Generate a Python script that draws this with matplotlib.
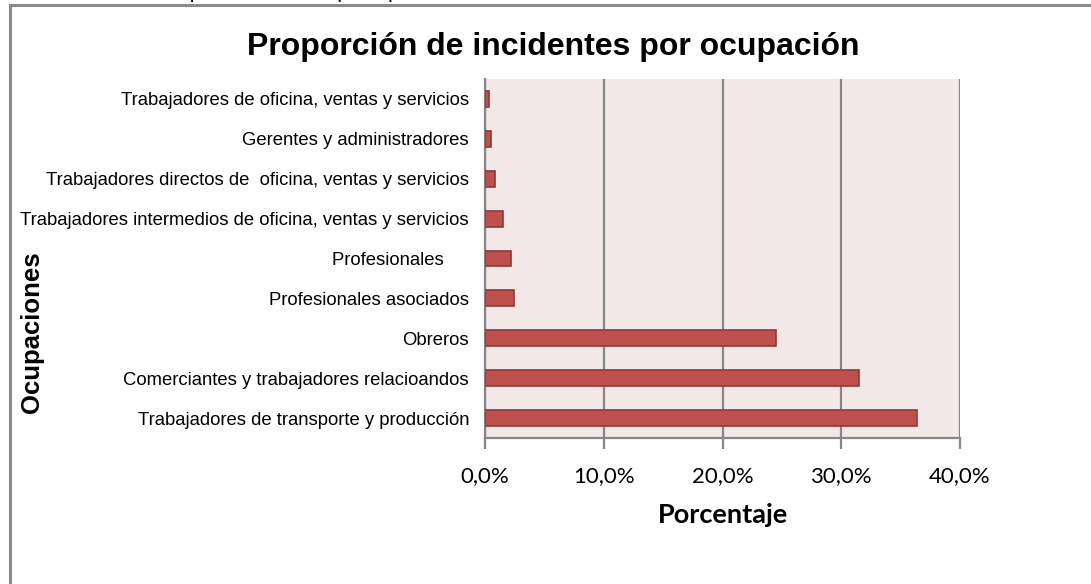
import matplotlib
matplotlib.use("Agg")
import matplotlib.pyplot as plt
from matplotlib.lines import Line2D
from matplotlib.ticker import FuncFormatter

# categories, bottom to top
ocupaciones = [
    "Trabajadores de transporte y producción",
    "Comerciantes y trabajadores relacioandos",
    "Obreros",
    "Profesionales asociados",
    "Profesionales     ",
    "Trabajadores intermedios de oficina, ventas y servicios",
    "Trabajadores directos de  oficina, ventas y servicios",
    "Gerentes y administradores",
    "Trabajadores de oficina, ventas y servicios",
]
porcentaje = [36.4, 31.5, 24.5, 2.4, 2.2, 1.5, 0.8, 0.5, 0.3]
x_ticks = [0, 10, 20, 30, 40]

W, H = 1091, 584
fig = plt.figure(figsize=(W / 100, H / 100), dpi=100)
fig.patch.set_facecolor("white")

# clipped heading from the page behind the chart, only descenders visible
fig.text(300 / W, 1 + 0.5 / H, "Proporción de incidentes por ocupación", ha="center",
         va="baseline", fontsize=10, fontweight="bold", family="Liberation Sans")

# outer chart frame (left and top edges visible)
fig.add_artist(Line2D([9.5 / W, 9.5 / W], [0, 1 - 4.5 / H], transform=fig.transFigure,
                      color="#8a8a8a", lw=2.2))
fig.add_artist(Line2D([9.5 / W, 1], [1 - 4.5 / H, 1 - 4.5 / H], transform=fig.transFigure,
                      color="#8a8a8a", lw=2.2))

ax = fig.add_axes([485 / W, 1 - 438 / H, 475 / W, 359 / H])
ax.set_facecolor("#f2e8e8")

ypos = range(len(ocupaciones))
ax.barh(ypos, porcentaje, height=0.4, color="#c0504d", edgecolor="#8c3a38", linewidth=1.2,
        zorder=3)

ax.set_xlim(0, 40)
ax.set_ylim(-0.5, len(ocupaciones) - 0.5)
ax.set_xticks(x_ticks)
ax.xaxis.set_major_formatter(FuncFormatter(lambda v, p: f"{v:.1f}%".replace(".", ",")))
ax.set_yticks(list(ypos))
ax.set_yticklabels(ocupaciones, family="Liberation Sans", fontsize=13.3)
for lab in ax.get_xticklabels():
    lab.set_family("Lato")
    lab.set_fontsize(16)

ax.grid(axis="x", color="#878787", linewidth=1.6, zorder=1)
for s in ["top", "right"]:
    ax.spines[s].set_visible(False)
for s in ["left", "bottom"]:
    ax.spines[s].set_color("#878787")
    ax.spines[s].set_linewidth(1.6)
ax.tick_params(axis="x", length=8, width=1.6, color="#878787", pad=12.5)
ax.tick_params(axis="y", length=0, pad=11.5)

ax.set_xlabel("Porcentaje", family="Lato", fontweight="bold", fontsize=19.5, labelpad=12)
fig.text(32 / W, 1 - 332 / H, "Ocupaciones", rotation=90, ha="center", va="center",
         family="Liberation Sans", fontweight="bold", fontsize=18.5)
fig.text(553 / W, 1 - 47 / H, "Proporción de incidentes por ocupación", ha="center",
         va="center", family="Liberation Sans", fontweight="bold", fontsize=23)

fig.savefig("out.png", dpi=100)
